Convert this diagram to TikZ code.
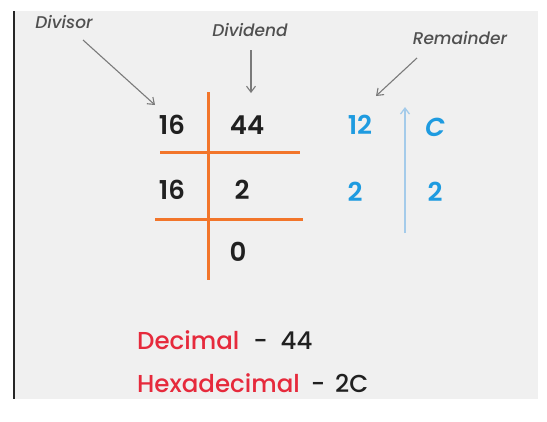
\documentclass[tikz,border=0pt]{standalone}
\usepackage{fontspec}
\setmainfont{Poppins}[UprightFont=*-Medium, ItalicFont=*-MediumItalic]
\newfontfamily\numfont{Poppins}[UprightFont=*-SemiBold, ItalicFont=*-SemiBoldItalic]
\usetikzlibrary{arrows.meta}
\definecolor{bgray}{HTML}{F0F0F0}
\definecolor{lblgray}{HTML}{505050}
\definecolor{arrgray}{HTML}{7A7A7A}
\definecolor{orangeln}{HTML}{F2752A}
\definecolor{numblue}{HTML}{1E9BE0}
\definecolor{arrblue}{HTML}{A4CBEA}
\definecolor{redtxt}{HTML}{E62A3C}
\definecolor{numblack}{HTML}{202020}
\tikzset{
  lbl/.style={text=lblgray, font=\fontsize{17}{19}\selectfont\itshape, inner sep=0pt},
  num/.style={text=numblack, font=\numfont\fontsize{26}{28}\selectfont, inner sep=0pt},
  bnum/.style={text=numblue, font=\numfont\fontsize{26}{28}\selectfont, inner sep=0pt},
  bigtxt/.style={font=\fontsize{24.5}{27}\selectfont, inner sep=0pt, anchor=west, text=numblack},
  pointer/.style={draw=arrgray, line width=1.1pt, -{Straight Barb[length=6pt,width=9pt]}},
  divline/.style={draw=orangeln, line width=3pt},
  uparrow/.style={draw=arrblue, line width=1.3pt, -{Straight Barb[length=6pt,width=9pt]}}
}
\begin{document}
\begin{tikzpicture}[x=1pt,y=-1pt]
\useasboundingbox (0,0) rectangle (547,421);
\fill[bgray] (14,11) rectangle (538,399);
\draw[line width=1.2pt, black!85] (14,11) -- (14,399);

% labels
\node[lbl] (divisorlbl) at (64,22) {Divisor};
\node[lbl] (dividendlbl) at (250,30) {Dividend};
\node[lbl] (remlbl) at (460,38) {Remainder};

% pointer coordinates
\coordinate (divS) at (83,40);
\coordinate (divE) at (155,105);
\coordinate (dvdS) at (251,50);
\coordinate (dvdE) at (251,93);
\coordinate (remS) at (417,58);
\coordinate (remE) at (376,96);
\draw[pointer] (divS) -- (divE);
\draw[pointer] (dvdS) -- (dvdE);
\draw[pointer] (remS) -- (remE);

% division lines
\coordinate (vT) at (208,92);
\coordinate (vB) at (208,280);
\coordinate (h1L) at (160,152);
\coordinate (h1R) at (300,152);
\coordinate (h2L) at (155,219);
\coordinate (h2R) at (303,219);
\draw[divline] (vT) -- (vB);
\draw[divline] (h1L) -- (h1R);
\draw[divline] (h2L) -- (h2R);

% numbers
\node[num] (d16a) at (172,125) {16};
\node[num] (d44) at (247,125) {44};
\node[num] (d16b) at (172,190) {16};
\node[num] (d2) at (242,190) {2};
\node[num] (d0) at (238,252) {0};

\node[bnum] (r12) at (360,125) {12};
\node[bnum] (rC) at (435,127) {\itshape C};
\node[bnum] (r2) at (355,192) {2};
\node[bnum] (h2) at (435,192) {2};

% blue arrow
\coordinate (uB) at (405,233);
\coordinate (uT) at (405,107);
\draw[uparrow] (uB) -- (uT);

% result
\node[bigtxt] (dec) at (137,340) {\textcolor{redtxt}{Decimal}\hspace{14pt}-\hspace{13pt}44};
\node[bigtxt] (hex) at (137,383) {\textcolor{redtxt}{Hexadecimal}\hspace{11pt}-\hspace{10pt}2C};
\end{tikzpicture}
\end{document}
